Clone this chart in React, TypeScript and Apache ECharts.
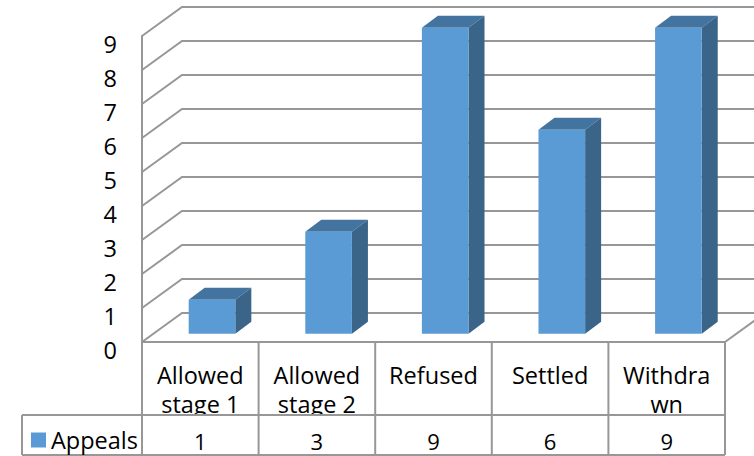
import React, { useEffect, useRef } from "react";
import * as echarts from "echarts";

const categories = ["Allowed\nstage 1", "Allowed\nstage 2", "Refused", "Settled", "Withdra\nwn"];
const appeals = [1, 3, 9, 6, 9];
const yTicks = [0, 1, 2, 3, 4, 5, 6, 7, 8, 9];
const seriesName = "Appeals";

const WIDTH = 754;
const HEIGHT = 456;
const FONT = "'Open Sans', sans-serif";
const TEXT_SIZE = 23.5;
const TABLE_VALUE_SIZE = 22;
const LINE = "#979797";
const FRONT = "#5B9BD5";
const SIDE = "#3A6488";
const TOP = "#43739F";

// Plot frame of the front plane and the oblique projection of the depth axis.
const PLOT_LEFT = 142;
const PLOT_RIGHT = 725;
const PLOT_TOP = 36;
const PLOT_BOTTOM = 342;
const DEPTH_X = 40;
const DEPTH_Y = -29;
const BAR_SHIFT_X = 11.7;
const BAR_SHIFT_Y = -8.3;
const BAR_DEPTH_X = 16;
const BAR_DEPTH_Y = -12;
const BAR_RATIO = 0.4;

// Data table geometry below the plot.
const TABLE_LEFT = 22;
const ROW_TOP = 415;
const ROW_BOTTOM = 455;
const ROW_MIDDLE = 441;

const renderWall = (params: any, api: any) => {
  const y = api.coord([0, api.value(1)])[1];
  const left = params.coordSys.x;
  return {
    type: "polyline",
    shape: {
      points: [
        [left, y],
        [left + DEPTH_X, y + DEPTH_Y],
        [left + params.coordSys.width + DEPTH_X, y + DEPTH_Y],
      ],
    },
    style: { fill: "none", stroke: LINE, lineWidth: 2 },
  };
};

const renderFloorEdge = (params: any) => {
  const right = params.coordSys.x + params.coordSys.width;
  const bottom = params.coordSys.y + params.coordSys.height;
  return {
    type: "line",
    shape: { x1: right, y1: bottom, x2: right + DEPTH_X, y2: bottom + DEPTH_Y },
    style: { stroke: LINE, lineWidth: 2 },
  };
};

const renderBar = (_params: any, api: any) => {
  const top = api.coord([api.value(0), api.value(1)]);
  const base = api.coord([api.value(0), 0]);
  const width = api.size([1, 0])[0] * BAR_RATIO;
  const x0 = top[0] - width / 2 + BAR_SHIFT_X;
  const x1 = x0 + width;
  const yTop = top[1] + BAR_SHIFT_Y;
  const yBase = base[1] + BAR_SHIFT_Y;
  return {
    type: "group",
    children: [
      {
        type: "polygon",
        shape: {
          points: [
            [x0, yTop],
            [x1, yTop],
            [x1 + BAR_DEPTH_X, yTop + BAR_DEPTH_Y],
            [x0 + BAR_DEPTH_X, yTop + BAR_DEPTH_Y],
          ],
        },
        style: { fill: TOP },
      },
      {
        type: "polygon",
        shape: {
          points: [
            [x1, yTop],
            [x1 + BAR_DEPTH_X, yTop + BAR_DEPTH_Y],
            [x1 + BAR_DEPTH_X, yBase + BAR_DEPTH_Y],
            [x1, yBase],
          ],
        },
        style: { fill: SIDE },
      },
      {
        type: "rect",
        shape: { x: x0, y: yTop, width, height: yBase - yTop },
        style: { fill: FRONT },
      },
    ],
  };
};

const renderTableValue = (_params: any, api: any) => ({
  type: "text",
  style: {
    text: String(api.value(1)),
    x: api.coord([api.value(0), 0])[0],
    y: ROW_MIDDLE,
    textAlign: "center",
    textVerticalAlign: "middle",
    fontFamily: FONT,
    fontSize: TABLE_VALUE_SIZE,
    fill: "#000",
  },
});

const tableLine = (x1: number, y1: number, x2: number, y2: number) => ({
  type: "line",
  z: 55,
  shape: { x1, y1, x2, y2 },
  style: { stroke: LINE, lineWidth: 2 },
});

const buildTable = () => {
  const cell = (PLOT_RIGHT - PLOT_LEFT) / categories.length;
  const columns = categories.map((_, i) =>
    tableLine(PLOT_LEFT + cell * (i + 1), PLOT_BOTTOM, PLOT_LEFT + cell * (i + 1), ROW_BOTTOM),
  );
  return [
    // Blanks the part of the wrapped labels that overflows the header row.
    {
      type: "rect",
      z: 50,
      shape: { x: 0, y: ROW_TOP, width: WIDTH, height: HEIGHT - ROW_TOP },
      style: { fill: "#fff" },
    },
    tableLine(PLOT_LEFT, PLOT_BOTTOM, PLOT_LEFT, ROW_BOTTOM),
    ...columns,
    tableLine(TABLE_LEFT, ROW_TOP, PLOT_RIGHT, ROW_TOP),
    tableLine(TABLE_LEFT, ROW_BOTTOM, PLOT_RIGHT, ROW_BOTTOM),
    tableLine(TABLE_LEFT, ROW_TOP, TABLE_LEFT, ROW_BOTTOM),
  ];
};

export default function App() {
  const ref = useRef<HTMLDivElement>(null);

  useEffect(() => {
    if (!ref.current) return;
    const chart = echarts.init(ref.current, undefined, { renderer: "svg" });
    const barData = appeals.map((v, i) => [i, v]);
    chart.setOption({
      animation: false,
      backgroundColor: "#fff",
      grid: {
        left: PLOT_LEFT,
        top: PLOT_TOP,
        width: PLOT_RIGHT - PLOT_LEFT,
        height: PLOT_BOTTOM - PLOT_TOP,
        containLabel: false,
      },
      legend: {
        data: [seriesName],
        left: 31,
        top: 428,
        z: 60,
        padding: 0,
        itemWidth: 15,
        itemHeight: 15,
        itemGap: 0,
        icon: "rect",
        selectedMode: false,
        itemStyle: { color: FRONT },
        textStyle: {
          fontFamily: FONT,
          fontSize: TEXT_SIZE,
          color: "#000",
          padding: [10, 0, 0, 0],
        },
      },
      xAxis: {
        type: "category",
        data: categories,
        boundaryGap: true,
        axisLine: { show: true, lineStyle: { color: LINE, width: 2 } },
        axisTick: { show: false },
        splitLine: { show: false },
        axisLabel: {
          interval: 0,
          margin: 18.5,
          fontFamily: FONT,
          fontSize: TEXT_SIZE,
          color: "#000",
          lineHeight: 29,
          verticalAlign: "top",
        },
      },
      yAxis: {
        type: "value",
        min: 0,
        max: 9,
        interval: 1,
        axisLine: { show: true, lineStyle: { color: LINE, width: 2 } },
        axisTick: { show: false },
        splitLine: { show: false },
        axisLabel: {
          margin: 25,
          fontFamily: FONT,
          fontSize: TEXT_SIZE,
          color: "#000",
          verticalAlign: "top",
          lineHeight: 16,
        },
      },
      graphic: { elements: buildTable() },
      series: [
        {
          name: "wall",
          type: "custom",
          z: 1,
          silent: true,
          renderItem: renderWall,
          encode: { x: 0, y: 1 },
          data: yTicks.map((v) => [0, v]),
        },
        {
          name: "floor",
          type: "custom",
          z: 1,
          silent: true,
          renderItem: renderFloorEdge,
          encode: { x: 0, y: 1 },
          data: [[0, 0]],
        },
        {
          name: seriesName,
          type: "custom",
          z: 2,
          itemStyle: { color: FRONT },
          renderItem: renderBar,
          encode: { x: 0, y: 1 },
          data: barData,
        },
        {
          name: "table",
          type: "custom",
          z: 60,
          silent: true,
          renderItem: renderTableValue,
          encode: { x: 0, y: 1 },
          data: barData,
        },
      ],
    });
    return () => chart.dispose();
  }, []);

  return (
    <div
      ref={ref}
      style={{ position: "absolute", left: 0, top: 0, width: WIDTH, height: HEIGHT }}
    />
  );
}
